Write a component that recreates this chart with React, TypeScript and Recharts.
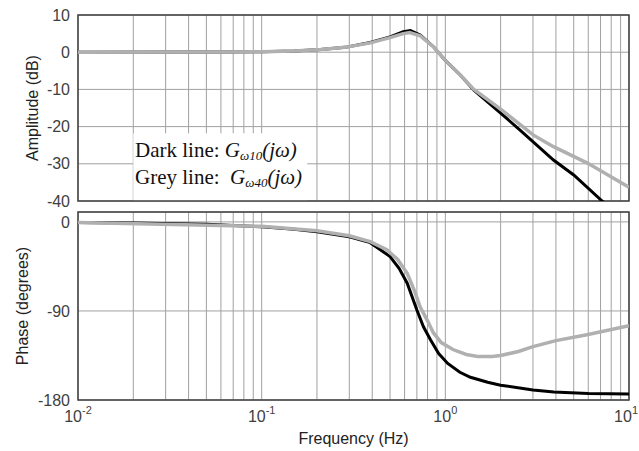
import {
  CartesianGrid,
  Line,
  LineChart,
  ReferenceArea,
  XAxis,
  YAxis,
} from "recharts";

// frequency ticks (Hz), decades get a 10^n label
const FREQ_TICKS = [
  0.01, 0.02, 0.03, 0.04, 0.05, 0.06, 0.07, 0.08, 0.09,
  0.1, 0.2, 0.3, 0.4, 0.5, 0.6, 0.7, 0.8, 0.9,
  1, 2, 3, 4, 5, 6, 7, 8, 9, 10,
];
const AMP_TICKS = [-40, -30, -20, -10, 0, 10];
const PHASE_TICKS = [-180, -90, 0];

// amplitude (dB), dark line = G_w10, grey line = G_w40
const AMP_DARK_F = [0.01, 0.05, 0.1, 0.15, 0.21, 0.285, 0.39, 0.5, 0.59, 0.645, 0.73, 0.864, 1.0, 1.21, 1.43, 2.0, 2.56, 3.88, 5.0, 7.14, 10];
const AMP_DARK = [0, 0.05, 0.15, 0.35, 0.7, 1.3, 2.6, 4.1, 5.5, 5.8, 4.6, 1.4, -2.2, -6.2, -10.2, -16.4, -21, -29, -33, -40, -46];
const AMP_GREY_F = [0.01, 0.05, 0.1, 0.15, 0.21, 0.285, 0.39, 0.5, 0.59, 0.64, 0.73, 0.864, 1.0, 1.21, 1.43, 2.0, 3.02, 3.88, 5.94, 10];
const AMP_GREY = [0, 0.05, 0.15, 0.35, 0.7, 1.3, 2.5, 3.9, 5.0, 5.3, 4.4, 1.4, -2.2, -6.2, -10.0, -15.3, -22.3, -25.4, -29.8, -36.3];

// phase (degrees)
const PH_DARK_F = [0.01, 0.02, 0.05, 0.1, 0.15, 0.2, 0.3, 0.39, 0.5, 0.56, 0.62, 0.7, 0.76, 0.83, 0.92, 1.03, 1.2, 1.37, 1.7, 2.0, 3.0, 3.9, 6, 10];
const PH_DARK = [-0.5, -1, -2.5, -5, -7.5, -10, -15, -21, -35, -47, -62, -89, -106, -119, -133, -143, -152, -157, -162, -165, -170, -172, -173.5, -174];
const PH_GREY_F = [0.01, 0.1, 0.2, 0.3, 0.39, 0.48, 0.55, 0.62, 0.68, 0.73, 0.8, 0.86, 0.95, 1.1, 1.3, 1.5, 1.8, 2.0, 2.5, 3.0, 4.0, 5.9, 10];
const PH_GREY = [-0.5, -4.5, -9, -14, -20, -28, -38, -52, -70, -86, -100, -112, -122, -129, -134, -136, -136, -135, -131, -126, -120, -114, -105];

const toPoints = (f: number[], v: number[]) => f.map((x, i) => ({ f: x, v: v[i] }));

const AXIS_COLOR = "#404040";
const GRID_COLOR = "#a0a0a0";
const DARK = "#000000";
const GREY = "#b0b0b0";
const FONT = "'Liberation Sans', Arial, sans-serif";
const SERIF = "'Liberation Serif', 'Times New Roman', serif";

const DecadeTick = (props: any) => {
  const { x, y, payload } = props;
  const lg = Math.log10(payload.value);
  const exp = Math.round(lg);
  if (Math.abs(lg - exp) > 1e-6) return <g />;
  // last label would run off the page, keep it inside
  const last = payload.value >= 10;
  return (
    <text
      x={last ? 638 : x}
      y={y}
      dy={14}
      textAnchor={last ? "end" : "middle"}
      fontSize={16}
      fill={AXIS_COLOR}
    >
      <tspan>10</tspan>
      <tspan dy={-8} fontSize={11}>
        {exp}
      </tspan>
    </text>
  );
};

const NoTick = () => <g />;

const App = () => {
  return (
    <div
      style={{
        position: "absolute",
        left: 0,
        top: 0,
        width: 639,
        height: 451,
        overflow: "hidden",
        background: "#fff",
        fontFamily: FONT,
      }}
    >
      <div style={{ position: "absolute", left: 0, top: 0 }}>
        <LineChart width={639} height={212} margin={{ top: 15, right: 10, bottom: 11, left: 0 }}>
          <CartesianGrid stroke={GRID_COLOR} strokeWidth={1} />
          <XAxis
            type="number"
            dataKey="f"
            scale="log"
            domain={[0.01, 10]}
            ticks={FREQ_TICKS}
            interval={0}
            allowDataOverflow
            height={0}
            tick={NoTick}
            tickLine={false}
            axisLine={false}
          />
          <YAxis
            type="number"
            domain={[-40, 10]}
            ticks={AMP_TICKS}
            interval={0}
            allowDataOverflow
            width={78}
            tickLine={false}
            axisLine={false}
            tick={{ fontSize: 16, fill: AXIS_COLOR }}
            label={{
              value: "Amplitude (dB)",
              angle: -90,
              position: "insideLeft",
              offset: 32,
              style: { textAnchor: "middle", fontSize: 16, fill: "#222" },
            }}
          />
          <ReferenceArea x1={0.02} x2={0.177} y1={-40} y2={-21.8} fill="#fff" fillOpacity={1} stroke="none" />
          <Line data={toPoints(AMP_DARK_F, AMP_DARK)} dataKey="v" stroke={DARK} strokeWidth={3} dot={false} isAnimationActive={false} />
          <Line data={toPoints(AMP_GREY_F, AMP_GREY)} dataKey="v" stroke={GREY} strokeWidth={3.5} dot={false} isAnimationActive={false} />
          <ReferenceArea x1={0.01} x2={10} y1={-40} y2={10} fill="none" stroke={AXIS_COLOR} strokeWidth={1.5} />
        </LineChart>
      </div>

      <div style={{ position: "absolute", left: 0, top: 200 }}>
        <LineChart width={639} height={251} margin={{ top: 12, right: 10, bottom: 0, left: 0 }}>
          <CartesianGrid stroke={GRID_COLOR} strokeWidth={1} />
          <XAxis
            type="number"
            dataKey="f"
            scale="log"
            domain={[0.01, 10]}
            ticks={FREQ_TICKS}
            interval={0}
            allowDataOverflow
            height={51}
            tick={DecadeTick}
            tickLine={false}
            axisLine={false}
            label={{
              value: "Frequency (Hz)",
              position: "insideBottom",
              offset: 7,
              style: { fontSize: 16, fill: "#222" },
            }}
          />
          <YAxis
            type="number"
            domain={[-180, 10]}
            ticks={PHASE_TICKS}
            interval={0}
            allowDataOverflow
            width={78}
            tickLine={false}
            axisLine={false}
            tick={{ fontSize: 16, fill: AXIS_COLOR }}
            label={{
              value: "Phase (degrees)",
              angle: -90,
              position: "insideLeft",
              offset: 22,
              style: { textAnchor: "middle", fontSize: 16, fill: "#222" },
            }}
          />
          <Line data={toPoints(PH_DARK_F, PH_DARK)} dataKey="v" stroke={DARK} strokeWidth={3} dot={false} isAnimationActive={false} />
          <Line data={toPoints(PH_GREY_F, PH_GREY)} dataKey="v" stroke={GREY} strokeWidth={3.5} dot={false} isAnimationActive={false} />
          <ReferenceArea x1={0.01} x2={10} y1={-180} y2={10} fill="none" stroke={AXIS_COLOR} strokeWidth={1.5} />
        </LineChart>
      </div>

      <div
        style={{
          position: "absolute",
          left: 135,
          top: 140,
          fontFamily: SERIF,
          fontSize: 21,
          lineHeight: "21px",
          color: "#111",
          whiteSpace: "nowrap",
        }}
      >
        Dark line: <i>G<span style={{ fontSize: 13, verticalAlign: -3 }}>ω10</span>(jω)</i>
      </div>
      <div
        style={{
          position: "absolute",
          left: 135,
          top: 167,
          fontFamily: SERIF,
          fontSize: 21,
          lineHeight: "21px",
          color: "#111",
          whiteSpace: "nowrap",
        }}
      >
        Grey line:&nbsp; <i>G<span style={{ fontSize: 13, verticalAlign: -3 }}>ω40</span>(jω)</i>
      </div>
    </div>
  );
};

export default App;
